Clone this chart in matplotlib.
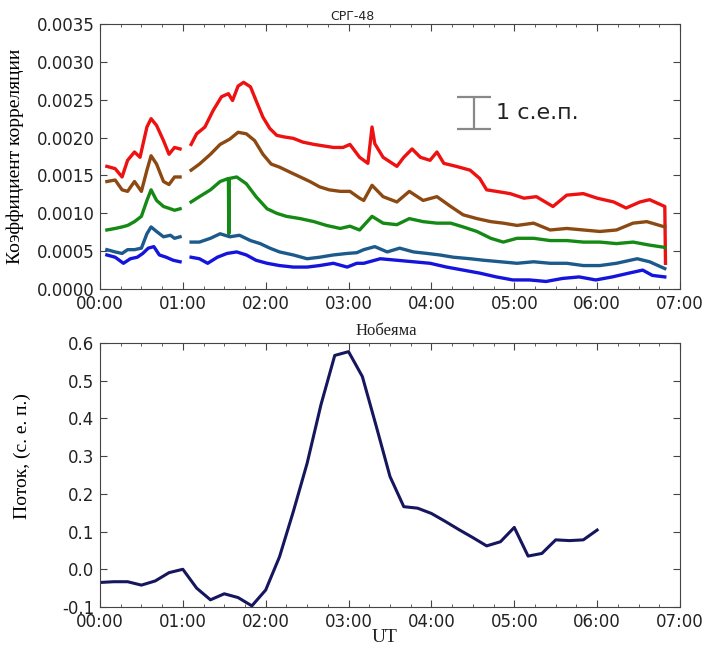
import numpy as np
import matplotlib
matplotlib.use("Agg")
from matplotlib import pyplot as plt
from matplotlib.ticker import MultipleLocator, FuncFormatter, FormatStrFormatter

# times in minutes after 00:00 UT
nan = np.nan

t_red = [5, 11, 16, 20, 25, 29, 34, 37, 41, 46, 50, 54, 58, nan,
         66, 70, 76, 82, 88, 93, 96, 100, 104, 109, 113, 118, 123, 128, 133,
         140, 147, 155, 162, 169, 176, 181, 188, 194, 197, 199, 205, 215,
         220, 226, 232, 239, 244, 249, 258, 268, 275, 280, 287, 297, 307,
         316, 328, 338, 350, 360, 372, 381, 391, 398, 409, 409.5]
v_red = [0.00162, 0.00159, 0.00148, 0.00170, 0.00181, 0.00174, 0.00214, 0.00225,
         0.00216, 0.00196, 0.00178, 0.00187, 0.00185, nan,
         0.00191, 0.00205, 0.00214, 0.00236, 0.00254, 0.00258, 0.00249, 0.00268,
         0.00273, 0.00267, 0.00249, 0.00227, 0.00212, 0.00203, 0.00201, 0.00199,
         0.00194, 0.00191, 0.00189, 0.00187, 0.00187, 0.00191, 0.00174, 0.00166,
         0.00214, 0.00192, 0.00174, 0.00162, 0.00174, 0.00185, 0.00174, 0.00170,
         0.00181, 0.00166, 0.00162, 0.00157, 0.00146, 0.00131, 0.00129, 0.00126,
         0.00120, 0.00122, 0.00109, 0.00124, 0.00126, 0.00120, 0.00115, 0.00107,
         0.00115, 0.00118, 0.00109, 0.00034]

t_brown = [5, 11, 16, 20, 25, 30, 34, 37, 41, 46, 50, 54, 58, nan,
           66, 72, 80, 87, 94, 100, 106, 112, 118, 124, 130, 138, 145, 152,
           159, 166, 174, 181, 188, 191, 197, 205, 215, 224, 234, 244, 254,
           263, 273, 283, 292, 302, 314, 326, 338, 350, 362, 374, 386, 396, 409]
v_brown = [0.00142, 0.00144, 0.00131, 0.00129, 0.00142, 0.00129, 0.00157, 0.00176,
           0.00165, 0.00142, 0.00138, 0.00148, 0.00148, nan,
           0.00157, 0.00165, 0.00178, 0.00191, 0.00198, 0.00207, 0.00205, 0.00196,
           0.00178, 0.00165, 0.00161, 0.00154, 0.00148, 0.00142, 0.00135, 0.00131,
           0.00129, 0.00129, 0.00120, 0.00117, 0.00137, 0.00122, 0.00115, 0.00129,
           0.00117, 0.00122, 0.00109, 0.00098, 0.00093, 0.00089, 0.00087, 0.00084,
           0.00087, 0.00078, 0.00080, 0.00078, 0.00076, 0.00078, 0.00087, 0.00089,
           0.00082]

t_green = [5, 11, 16, 20, 25, 30, 34, 37, 41, 46, 51, 54, 58, nan,
           66, 72, 80, 87, 93, 93.3, 93.6, 99, 106, 113, 121, 128, 135, 145,
           155, 164, 174, 181, 188, 197, 205, 215, 224, 234, 244, 254, 263,
           273, 283, 292, 302, 314, 326, 338, 350, 362, 374, 386, 398, 409]
v_green = [0.00078, 0.00080, 0.00082, 0.00084, 0.00089, 0.00096, 0.00117, 0.00131,
           0.00117, 0.00109, 0.00106, 0.00104, 0.00106, nan,
           0.00115, 0.00122, 0.00131, 0.00142, 0.00146, 0.00073, 0.00146, 0.00148,
           0.00139, 0.00122, 0.00106, 0.00100, 0.00096, 0.00093, 0.00089, 0.00084,
           0.00080, 0.00083, 0.00078, 0.00096, 0.00087, 0.00085, 0.00093, 0.00089,
           0.00087, 0.00087, 0.00082, 0.00076, 0.00067, 0.00062, 0.00067, 0.00067,
           0.00064, 0.00064, 0.00062, 0.00062, 0.00060, 0.00062, 0.00058, 0.00055]

t_steel = [5, 11, 16, 20, 25, 30, 34, 37, 41, 46, 51, 54, 58, nan,
           66, 72, 80, 87, 94, 101, 109, 116, 123, 130, 140, 150, 159, 169,
           179, 186, 191, 199, 208, 217, 227, 237, 246, 256, 268, 278, 290,
           302, 314, 326, 338, 350, 362, 374, 389, 398, 409]
v_steel = [0.00052, 0.00049, 0.00047, 0.00052, 0.00052, 0.00054, 0.00073, 0.00082,
           0.00076, 0.00069, 0.00071, 0.00067, 0.00069, nan,
           0.00062, 0.00062, 0.00067, 0.00073, 0.00069, 0.00071, 0.00064, 0.00060,
           0.00054, 0.00049, 0.00045, 0.00040, 0.00042, 0.00045, 0.00047, 0.00048,
           0.00052, 0.00056, 0.00049, 0.00054, 0.00049, 0.00047, 0.00045, 0.00042,
           0.00040, 0.00038, 0.00036, 0.00034, 0.00036, 0.00034, 0.00034, 0.00031,
           0.00031, 0.00034, 0.00040, 0.00036, 0.00027]

t_blue = [5, 11, 17, 22, 27, 31, 35, 39, 43, 48, 53, 58, nan,
          66, 72, 78, 85, 92, 99, 106, 113, 121, 130, 140, 150, 159, 169,
          179, 186, 191, 203, 215, 227, 239, 251, 263, 275, 287, 299, 311,
          323, 335, 347, 359, 371, 383, 393, 400, 409]
v_blue = [0.00045, 0.00042, 0.00034, 0.00040, 0.00042, 0.00047, 0.00054, 0.00056,
          0.00045, 0.00042, 0.00038, 0.00036, nan,
          0.00042, 0.00040, 0.00034, 0.00042, 0.00047, 0.00049, 0.00045, 0.00038,
          0.00034, 0.00031, 0.00029, 0.00029, 0.00031, 0.00034, 0.00029, 0.00034,
          0.00034, 0.00040, 0.00038, 0.00036, 0.00034, 0.00029, 0.00025, 0.00021,
          0.00016, 0.00012, 0.00012, 0.00010, 0.00014, 0.00016, 0.00012, 0.00016,
          0.00021, 0.00025, 0.00018, 0.00016]

# Nobeyama flux, every 10 minutes
t_nob = np.arange(0, 370, 10)
v_nob = [-0.035, -0.033, -0.033, -0.042, -0.031, -0.009, 0.000, -0.050, -0.081,
         -0.065, -0.075, -0.097, -0.055, 0.033, 0.153, 0.281, 0.436, 0.567,
         0.577, 0.511, 0.380, 0.246, 0.166, 0.162, 0.148, 0.127, 0.105, 0.084,
         0.062, 0.073, 0.111, 0.035, 0.042, 0.078, 0.076, 0.078, 0.104]

series = [(t_red, v_red, '#ee1111'),
          (t_brown, v_brown, '#8c4a12'),
          (t_green, v_green, '#148a14'),
          (t_steel, v_steel, '#1c5a8c'),
          (t_blue, v_blue, '#1414dd')]

plt.rcParams['xtick.direction'] = 'in'
plt.rcParams['ytick.direction'] = 'in'
plt.rcParams['xtick.top'] = True
plt.rcParams['ytick.right'] = True
plt.rcParams['axes.edgecolor'] = '#444444'
plt.rcParams['xtick.color'] = '#444444'
plt.rcParams['ytick.color'] = '#444444'
plt.rcParams['xtick.labelcolor'] = '#222222'
plt.rcParams['ytick.labelcolor'] = '#222222'


def hhmm(h, pos):
    m = int(round(h * 60))
    return '%02d:%02d' % (m // 60, m % 60)


def style_axes(ax):
    ax.set_xlim(0, 7)
    ax.xaxis.set_major_locator(MultipleLocator(1))
    ax.xaxis.set_minor_locator(MultipleLocator(0.25))
    ax.xaxis.set_major_formatter(FuncFormatter(hhmm))
    ax.tick_params(which='major', length=5, labelsize=12, pad=4)
    ax.tick_params(which='minor', length=2.5)


fig = plt.figure(figsize=(7.07, 6.62), dpi=100)

ax1 = fig.add_axes([0.1414, 0.5634, 0.8204, 0.4003])
for t, v, c in series:
    ax1.plot(np.array(t) / 60.0, v, color=c, lw=2.4)
ax1.errorbar([4.51], [0.002325], yerr=[0.000215], color='#888888',
             capsize=12, lw=1.6, capthick=1.6)
ax1.text(4.78, 0.002325, '1 с.е.п.', fontsize=16, va='center', ha='left',
         color='#222222')
style_axes(ax1)
ax1.set_ylim(0, 0.0035)
ax1.yaxis.set_major_locator(MultipleLocator(0.0005))
ax1.yaxis.set_major_formatter(FormatStrFormatter('%.4f'))
ax1.set_ylabel('Коэффициент корреляции', family='Liberation Serif', fontsize=14)
ax1.yaxis.set_label_coords(-0.131, 0.5)
fig.text(352 / 707, 1 - 16 / 662, 'СРГ-48', fontsize=9, ha='center',
         va='center', color='#222222')

ax2 = fig.add_axes([0.1414, 0.0831, 0.8204, 0.3988])
ax2.plot(t_nob / 60.0, v_nob, color='#16165e', lw=2.2)
style_axes(ax2)
ax2.set_ylim(-0.1, 0.6)
ax2.yaxis.set_major_locator(MultipleLocator(0.1))
ax2.yaxis.set_major_formatter(FormatStrFormatter('%.1f'))
ax2.set_ylabel('Поток, (с. е. п.)', family='Liberation Serif', fontsize=14)
ax2.yaxis.set_label_coords(-0.119, 0.572)
fig.text(386 / 707, 1 - 331 / 662, 'Нобеяма', family='Liberation Serif',
         fontsize=12, ha='center', va='center', color='#222222')
fig.text(385 / 707, 1 - 638 / 662, 'UT', family='Liberation Serif',
         fontsize=14, ha='center', va='center', color='#222222')

fig.savefig('out.png', dpi=100)
